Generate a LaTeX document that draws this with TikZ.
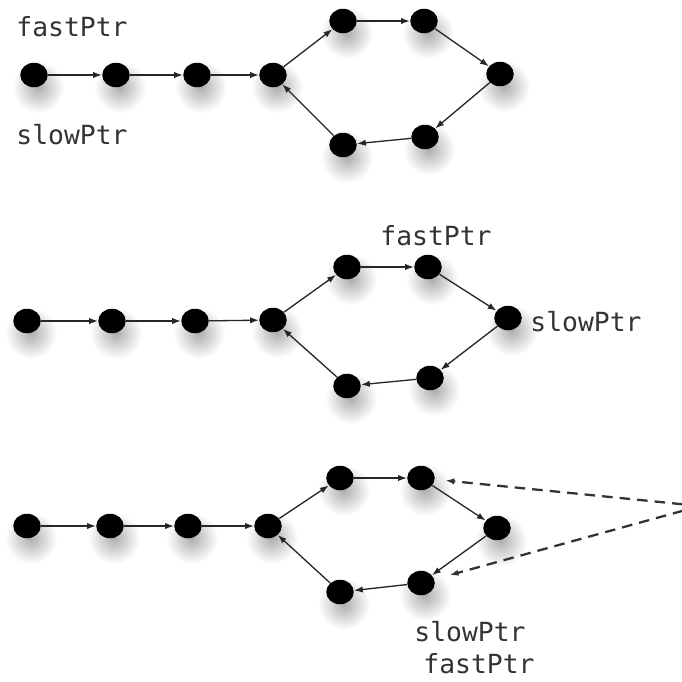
\documentclass[tikz,border=0pt]{standalone}
\usepackage{fontspec}
\setmonofont{DejaVu Sans Mono}
\usetikzlibrary{arrows.meta,shapes.geometric,calc,backgrounds}

\begin{document}
\begin{tikzpicture}[x=0.02cm,y=-0.02cm,>={Latex[length=5pt,width=3.6pt]},
  dot/.style={ellipse,fill=black,inner sep=0pt,minimum width=0.55cm,minimum height=0.49cm},
  haze/.style={inner color=black!32,outer color=white},
  link/.style={->,line width=0.75pt,black!85},
  hint/.style={->,dashed,line width=1.3pt,black!80,dash pattern=on 6pt off 4pt},
  ptr/.style={font=\ttfamily\fontsize{15}{18}\selectfont,text=black!80}]

\useasboundingbox (0,0) rectangle (682,681);

% First state: both pointers at the head.
\node[dot] (a1) at (34,75) {};
\node[dot] (a2) at (116,75) {};
\node[dot] (a3) at (197,75) {};
\node[dot] (a4) at (273,75) {};
\node[dot] (a5) at (343,21) {};
\node[dot] (a6) at (424,21) {};
\node[dot] (a7) at (500,74) {};
\node[dot] (a8) at (425,137) {};
\node[dot] (a9) at (343,145) {};
\node[ptr] (fa) at (72,27) {fastPtr};
\node[ptr] (sa) at (72,135) {slowPtr};
\draw[link] (a1)--(a2);
\draw[link] (a2)--(a3);
\draw[link] (a3)--(a4);
\draw[link] (a4)--(a5);
\draw[link] (a5)--(a6);
\draw[link] (a6)--(a7);
\draw[link] (a7)--(a8);
\draw[link] (a8)--(a9);
\draw[link] (a9)--(a4);

% Second state: pointers inside the loop.
\node[dot] (b1) at (27,321) {};
\node[dot] (b2) at (112,321) {};
\node[dot] (b3) at (195,321) {};
\node[dot] (b4) at (273,320) {};
\node[dot] (b5) at (347,267) {};
\node[dot] (b6) at (428,267) {};
\node[dot] (b7) at (508,318) {};
\node[dot] (b8) at (430,378) {};
\node[dot] (b9) at (347,386) {};
\node[ptr] (fb) at (436,236) {fastPtr};
\node[ptr] (sb) at (586,322) {slowPtr};
\draw[link] (b1)--(b2);
\draw[link] (b2)--(b3);
\draw[link] (b3)--(b4);
\draw[link] (b4)--(b5);
\draw[link] (b5)--(b6);
\draw[link] (b6)--(b7);
\draw[link] (b7)--(b8);
\draw[link] (b8)--(b9);
\draw[link] (b9)--(b4);

% Third state: the pointers meet.
\node[dot] (c1) at (27,526) {};
\node[dot] (c2) at (110,526) {};
\node[dot] (c3) at (188,526) {};
\node[dot] (c4) at (268,526) {};
\node[dot] (c5) at (340,478) {};
\node[dot] (c6) at (421,478) {};
\node[dot] (c7) at (497,528) {};
\node[dot] (c8) at (421,583) {};
\node[dot] (c9) at (340,592) {};
\node[ptr] (sc) at (470,632) {slowPtr};
\node[ptr] (fc) at (479,664) {fastPtr};
\draw[link] (c1)--(c2);
\draw[link] (c2)--(c3);
\draw[link] (c3)--(c4);
\draw[link] (c4)--(c5);
\draw[link] (c5)--(c6);
\draw[link] (c6)--(c7);
\draw[link] (c7)--(c8);
\draw[link] (c8)--(c9);
\draw[link] (c9)--(c4);

\coordinate (tip) at (700,506);
\draw[hint,shorten >=6pt] (tip)--(c6);
\draw[hint,shorten >=9pt] (tip)--(c8);

% Soft shadows under the dots.
\begin{scope}[on background layer]
  \foreach \n in {a1,a2,a3,a4,a5,a6,a7,a8,a9,b1,b2,b3,b4,b5,b6,b7,b8,b9,c1,c2,c3,c4,c5,c6,c7,c8,c9}
    \shade[haze] ($(\n)+(4,12)$) circle (26);
\end{scope}

\end{tikzpicture}
\end{document}
